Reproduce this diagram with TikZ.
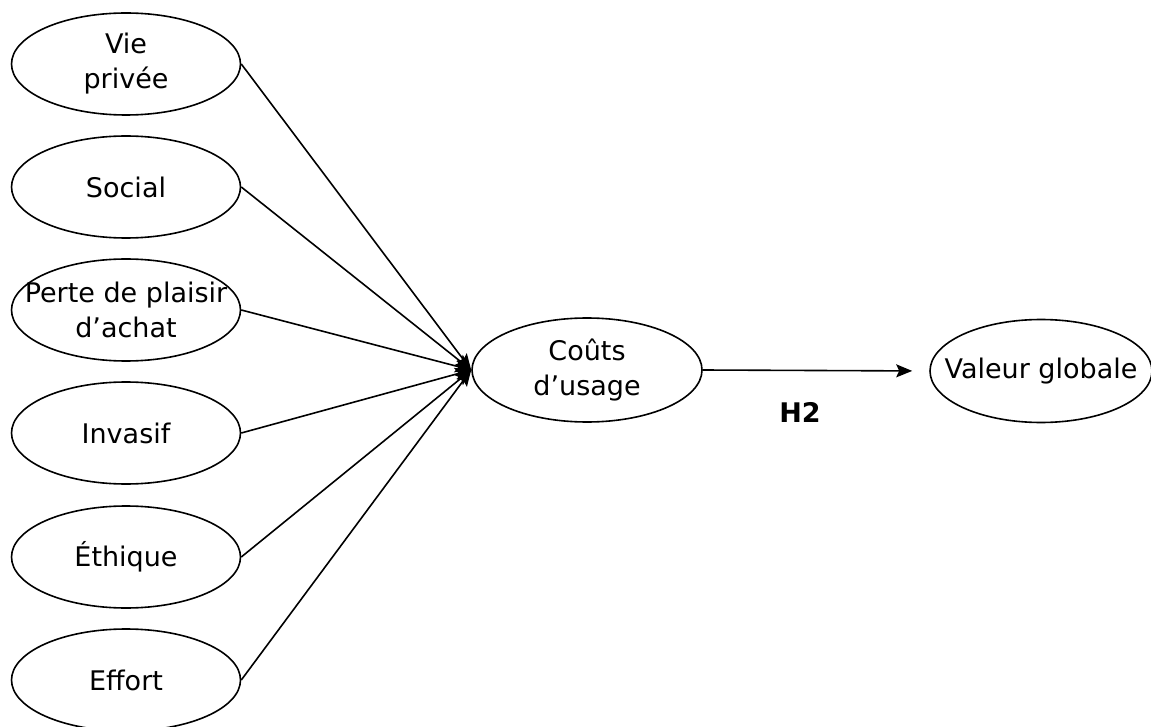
\documentclass[tikz,border=0pt]{standalone}
\usepackage{fontspec}
\setmainfont{DejaVu Sans}
\usetikzlibrary{shapes.geometric,arrows.meta}
\newcommand{\linew}{1.6pt}

\begin{document}
\begin{tikzpicture}[x=1pt,y=-1pt,
  font=\fontsize{27}{35}\selectfont,
  factor/.style={draw, ellipse, line width=\linew, align=center,
    inner xsep=-40pt, inner ysep=-14pt,
    minimum width=229pt, minimum height=102pt},
  conn/.style={line width=\linew, -{Stealth[length=16pt,width=13pt,inset=3pt]}}]
\useasboundingbox (0,0) rectangle (1151,727);
    % cost dimensions
\node (vie) at (126,64)  [factor] {Vie\\privée};
\node (social) at (126,187)  [factor] {Social};
\node (perte) at (126,310)  [factor] {Perte de plaisir\\d’achat};
\node (invasif) at (126,433)  [factor] {Invasif};
\node (ethique) at (126,557)  [factor] {Éthique};
\node (effort) at (126,680)  [factor] {Effort};
    % costs and value
\node (couts) at (587,370)  [factor, minimum width=230pt, minimum height=104pt] {Coûts\\d’usage};
\node (valeur) at (1041,371)  [factor, minimum width=222pt, minimum height=103pt] {Valeur globale};
\node (h2) at (800,412)  [font=\fontsize{27}{35}\selectfont\bfseries] {H2};

\draw[conn] (vie.east) to (couts.west);
\draw[conn] (social.east) to (couts.west);
\draw[conn] (perte.east) to (couts.west);
\draw[conn] (invasif.east) to (couts.west);
\draw[conn] (ethique.east) to (couts.west);
\draw[conn] (effort.east) to (couts.west);
\draw[conn, shorten >=17pt] (couts.east) to (valeur.west);

  \end{tikzpicture}
\end{document}
